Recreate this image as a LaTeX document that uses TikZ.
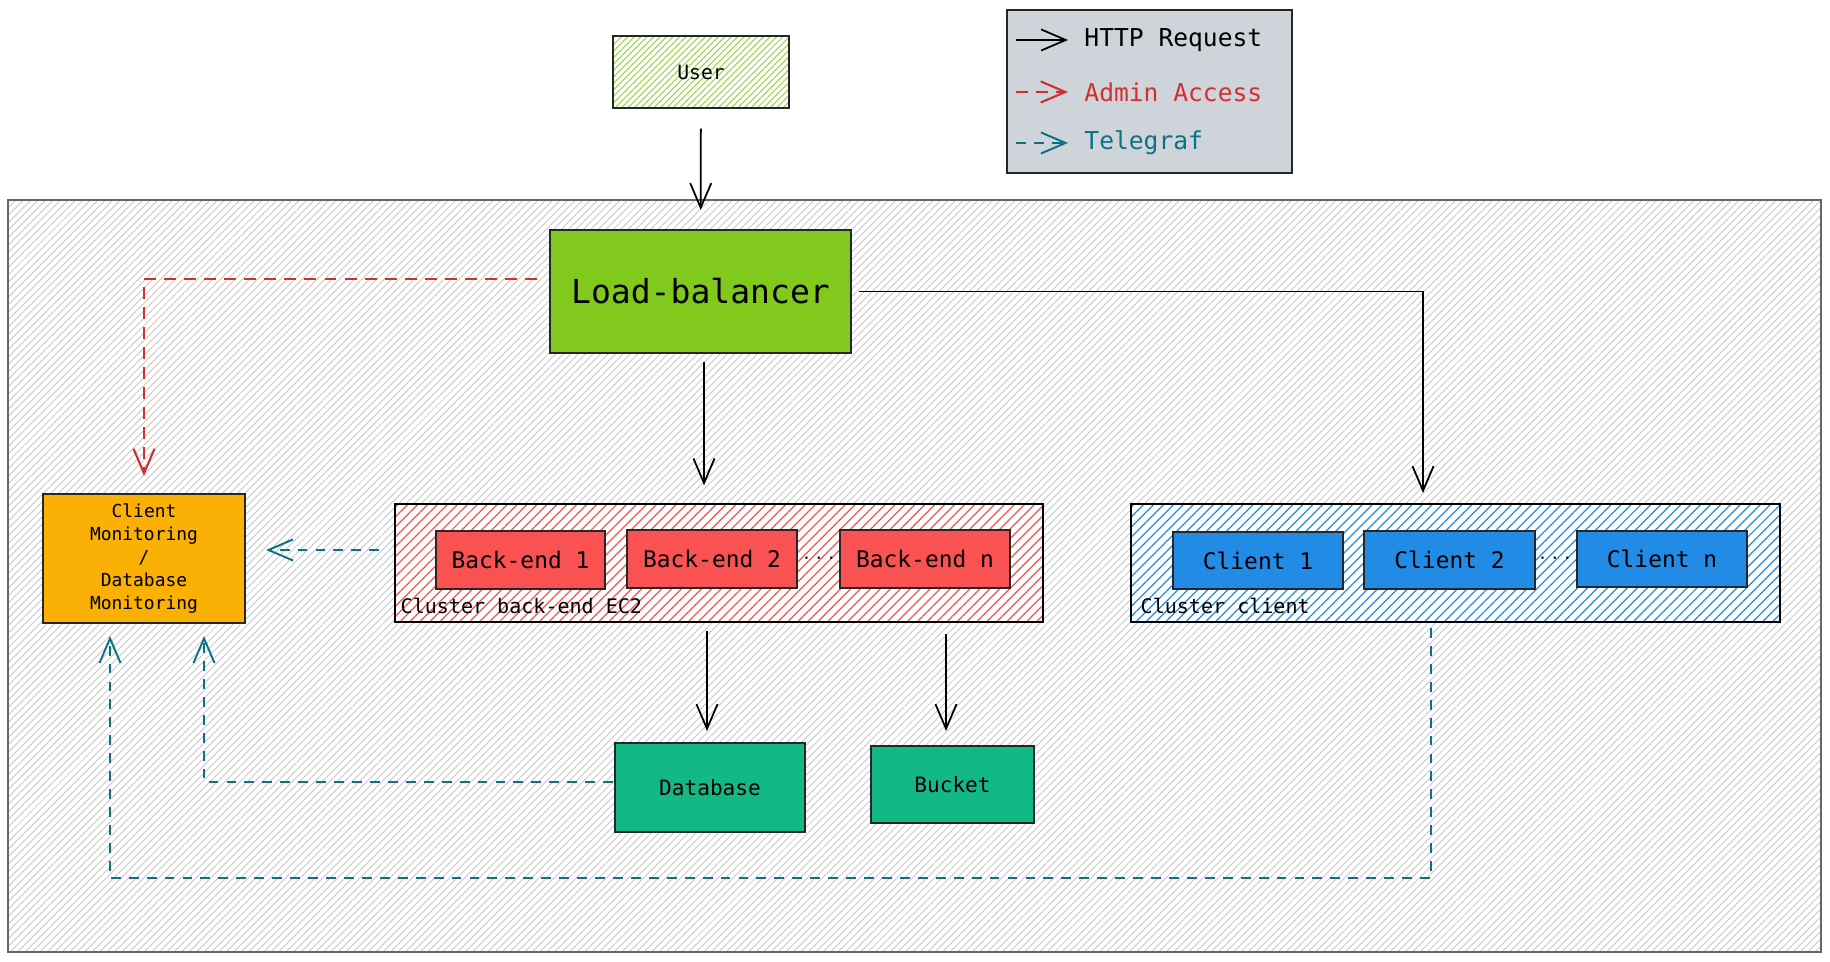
\documentclass[tikz,border=0pt]{standalone}
\usepackage{fontspec}
\setmonofont{DejaVu Sans Mono}
\usetikzlibrary{arrows.meta,patterns.meta}

\definecolor{lbgreen}{HTML}{82C91E}
\definecolor{bered}{HTML}{FA5252}
\definecolor{clblue}{HTML}{228BE6}
\definecolor{dbteal}{HTML}{12B886}
\definecolor{monorange}{HTML}{FAB005}
\definecolor{legendgray}{HTML}{CED4DA}
\definecolor{adminred}{HTML}{D32F2F}
\definecolor{teleteal}{HTML}{0B7285}

\tikzset{
  box/.style={draw=black!85, line width=0.55pt, align=center, font=\ttfamily, inner sep=0pt},
  cluster/.style={draw=black, line width=0.6pt, preaction={fill=white}},
  http/.style={draw=black, line width=0.5pt, -{Straight Barb[length=7pt,width=6pt]}},
  admin/.style={http, draw=adminred, line width=0.6pt, dash pattern=on 3.4pt off 2.3pt},
  tele/.style={http, draw=teleteal, line width=0.55pt, dash pattern=on 2.8pt off 2.3pt},
}

\begin{document}
\begin{tikzpicture}[x=0.01cm, y=-0.01cm]
  \useasboundingbox[fill=white] (0,0) rectangle (1830,962);

  % Infrastructure
  \draw[draw=black!60, line width=0.4pt,
        pattern={Lines[angle=45,distance=1.5pt,line width=0.25pt]}, pattern color=black!22]
    (8,200) rectangle (1821,952);

  % User
  \node[box, minimum width=1.76cm, minimum height=0.72cm, preaction={fill=white},
        pattern={Lines[angle=45,distance=1.3pt,line width=0.3pt]}, pattern color=lbgreen!80,
        font=\ttfamily\fontsize{5.6pt}{7pt}\selectfont]
    (user) at (701,72) {User};

  % Legend
  \node[box, fill=legendgray, minimum width=2.85cm, minimum height=1.63cm] (legend) at (1149.5,91.5) {};
  \coordinate (httpA) at (1016,40);  \coordinate (httpB) at (1068,40);
  \coordinate (admA)  at (1016,92);  \coordinate (admB)  at (1068,92);
  \coordinate (telA)  at (1016,143); \coordinate (telB)  at (1068,143);
  \draw[http]  (httpA) -- (httpB);
  \draw[admin] (admA) -- (admB);
  \draw[tele]  (telA) -- (telB);
  \node[anchor=west, font=\ttfamily\fontsize{7pt}{8pt}\selectfont] (lhttp) at (1072,40) {HTTP Request};
  \node[anchor=west, font=\ttfamily\fontsize{7pt}{8pt}\selectfont, text=adminred] (ladmin) at (1072,92) {Admin Access};
  \node[anchor=west, font=\ttfamily\fontsize{7pt}{8pt}\selectfont, text=teleteal] (ltele) at (1072,143) {Telegraf};

  % Load-balancer and monitoring
  \node[box, fill=lbgreen, minimum width=3.01cm, minimum height=1.23cm,
        font=\ttfamily\fontsize{9.4pt}{11pt}\selectfont]
    (lb) at (700.5,291.5) {Load-balancer};
  \node[box, fill=monorange, minimum width=2.02cm, minimum height=1.29cm,
        font=\ttfamily\fontsize{5.1pt}{6.6pt}\selectfont]
    (mon) at (144,558.5) {Client\\Monitoring\\/\\Database\\Monitoring};

  % Cluster back-end
  \node[cluster, minimum width=6.48cm, minimum height=1.18cm,
        pattern={Lines[angle=45,distance=2pt,line width=0.35pt]}, pattern color=bered]
    (becluster) at (719,563) {};
  \node[anchor=base west, font=\ttfamily\fontsize{5.7pt}{7pt}\selectfont, inner sep=0pt]
    (belabel) at (400,614) {Cluster back-end EC2};
  \node[box, fill=bered, minimum width=1.69cm, minimum height=0.58cm, font=\ttfamily\fontsize{6.5pt}{8pt}\selectfont] (be1) at (520.5,560) {Back-end 1};
  \node[box, fill=bered, minimum width=1.70cm, minimum height=0.58cm, font=\ttfamily\fontsize{6.5pt}{8pt}\selectfont] (be2) at (712,559) {Back-end 2};
  \node[box, fill=bered, minimum width=1.70cm, minimum height=0.58cm, font=\ttfamily\fontsize{6.5pt}{8pt}\selectfont] (ben) at (925,559) {Back-end n};
  \node[inner sep=0pt, font=\fontsize{6pt}{7pt}\selectfont] (bedots) at (819,558) {$\cdots$};

  % Cluster client
  \node[cluster, minimum width=6.49cm, minimum height=1.18cm,
        pattern={Lines[angle=45,distance=2pt,line width=0.35pt]}, pattern color=clblue]
    (clcluster) at (1455.5,563) {};
  \node[anchor=base west, font=\ttfamily\fontsize{5.7pt}{7pt}\selectfont, inner sep=0pt]
    (cllabel) at (1140,614) {Cluster client};
  \node[box, fill=clblue, minimum width=1.70cm, minimum height=0.57cm, font=\ttfamily\fontsize{6.5pt}{8pt}\selectfont] (cl1) at (1258,560.5) {Client 1};
  \node[box, fill=clblue, minimum width=1.71cm, minimum height=0.58cm, font=\ttfamily\fontsize{6.5pt}{8pt}\selectfont] (cl2) at (1449.5,560) {Client 2};
  \node[box, fill=clblue, minimum width=1.70cm, minimum height=0.56cm, font=\ttfamily\fontsize{6.5pt}{8pt}\selectfont] (cln) at (1662,559) {Client n};
  \node[inner sep=0pt, font=\fontsize{6pt}{7pt}\selectfont] (cldots) at (1555,558) {$\cdots$};

  % Storage
  \node[box, fill=dbteal, minimum width=1.90cm, minimum height=0.89cm, font=\ttfamily\fontsize{6pt}{7pt}\selectfont] (db) at (710,787.5) {Database};
  \node[box, fill=dbteal, minimum width=1.63cm, minimum height=0.77cm, font=\ttfamily\fontsize{6pt}{7pt}\selectfont] (bucket) at (952.5,784.5) {Bucket};

  % HTTP requests
  \coordinate (lbdown) at (704,353);
  \coordinate (clin) at (1423,504);
  \coordinate (bedb) at (707,622);
  \coordinate (bebk) at (946,622);
  \draw[http, shorten <=0.2cm, shorten >=0.19cm] (user) -- (lb);
  \draw[http, shorten <=0.09cm, shorten >=0.18cm] (lbdown) -- (lbdown |- becluster.north);
  \draw[http, shorten <=0.07cm, shorten >=0.11cm] (lb.east) -| (clin);
  \draw[http, shorten <=0.09cm, shorten >=0.11cm] (bedb) -- (bedb |- db.north);
  \draw[http, shorten <=0.12cm, shorten >=0.14cm] (bebk) -- (bebk |- bucket.north);

  % Admin access
  \draw[admin, shorten <=0.12cm, shorten >=0.17cm] ([yshift=0.125cm]lb.west) -| (mon.north);

  % Telegraf
  \coordinate (clout) at (1431,622);
  \coordinate (monA) at (110,623);
  \coordinate (monB) at (204,623);
  \draw[tele, shorten <=0.15cm, shorten >=0.2cm] ([yshift=0.13cm]becluster.west) -- ([yshift=0.13cm]becluster.west -| mon.east);
  \draw[tele, shorten <=0.01cm, shorten >=0.13cm] ([yshift=0.055cm]db.west) -| (monB);
  \draw[tele, shorten <=0.06cm, shorten >=0.13cm] (clout) -- ++(0,256) -| (monA);

\end{tikzpicture}
\end{document}
